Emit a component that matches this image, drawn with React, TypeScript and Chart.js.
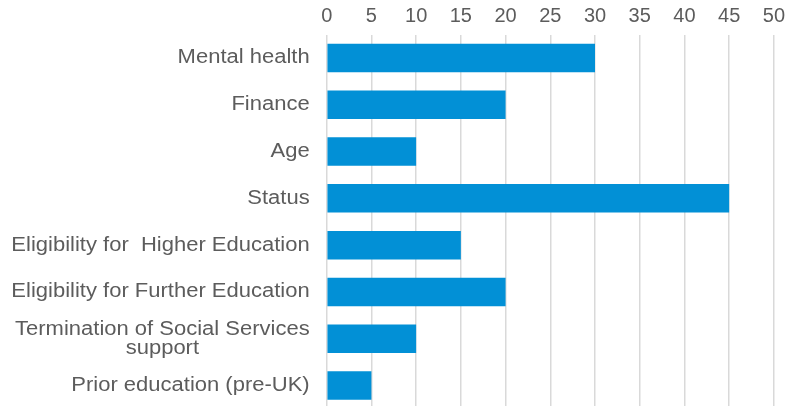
import React, { useEffect, useRef } from "react";
import { Chart, registerables } from "chart.js";

Chart.register(...registerables);

const categories: (string | string[])[] = [
  "Mental health",
  "Finance",
  "Age",
  "Status",
  "Eligibility for  Higher Education",
  "Eligibility for Further Education",
  ["Termination of Social Services", "support"],
  "Prior education (pre-UK)",
];
const values: number[] = [30, 20, 10, 45, 15, 20, 10, 5];
const xMin = 0;
const xMax = 50;
const xStep = 5;

const TEXT = "#5c5c5c";
const FONT = '20px "Liberation Sans", Arial, sans-serif';

const labelPlugin = {
  id: "ylabels",
  afterDraw(chart: any) {
    const ys = chart.scales.y;
    const ctx: CanvasRenderingContext2D = chart.ctx;
    const right = chart.chartArea.left - 17;
    const sx = 1.1;
    const lh = 19;
    ctx.save();
    ctx.font = FONT;
    ctx.fillStyle = TEXT;
    ctx.textBaseline = "middle";
    categories.forEach((lab, i) => {
      const py = ys.getPixelForTick(i);
      const lines = Array.isArray(lab) ? lab : [lab];
      const widths = lines.map((l) => ctx.measureText(l).width);
      const maxW = Math.max(...widths);
      lines.forEach((l, j) => {
        const ly = py + (j - (lines.length - 1) / 2) * lh;
        ctx.save();
        ctx.translate(right, ly);
        ctx.scale(sx, 1);
        if (lines.length > 1) {
          ctx.textAlign = "center";
          ctx.fillText(l, -maxW / 2, 0);
        } else {
          ctx.textAlign = "right";
          ctx.fillText(l, 0, 0);
        }
        ctx.restore();
      });
    });
    ctx.restore();
  },
};

export default function App() {
  const ref = useRef<HTMLCanvasElement>(null);
  useEffect(() => {
    document.body.style.margin = "0";
    document.body.style.overflow = "hidden";
    const chart = new Chart(ref.current!, {
      type: "bar",
      data: {
        labels: categories,
        datasets: [
          {
            data: values,
            backgroundColor: "#0290d6",
            borderWidth: 0,
            barPercentage: 0.61,
            categoryPercentage: 1,
          },
        ],
      },
      options: {
        indexAxis: "y",
        animation: false,
        responsive: true,
        maintainAspectRatio: false,
        layout: { padding: { top: 0, left: 0, right: 12, bottom: 0 } },
        plugins: { legend: { display: false }, tooltip: { enabled: false } },
        scales: {
          x: {
            position: "top",
            min: xMin,
            max: xMax,
            ticks: {
              stepSize: xStep,
              color: TEXT,
              padding: 6,
              font: { family: '"Liberation Sans", Arial, sans-serif', size: 20 },
            },
            grid: { color: "#d9d9d9", lineWidth: 1.5, drawTicks: false },
            border: { display: false },
            afterFit: (s: any) => {
              s.height = 34.5;
            },
          },
          y: {
            ticks: { display: false },
            grid: { display: false },
            border: { display: false },
            afterFit: (s: any) => {
              s.width = 326.7;
            },
          },
        },
      },
      plugins: [labelPlugin],
    });
    return () => chart.destroy();
  }, []);
  return (
    <div style={{ position: "relative", width: 791, height: 409 }}>
      <canvas ref={ref} />
    </div>
  );
}
